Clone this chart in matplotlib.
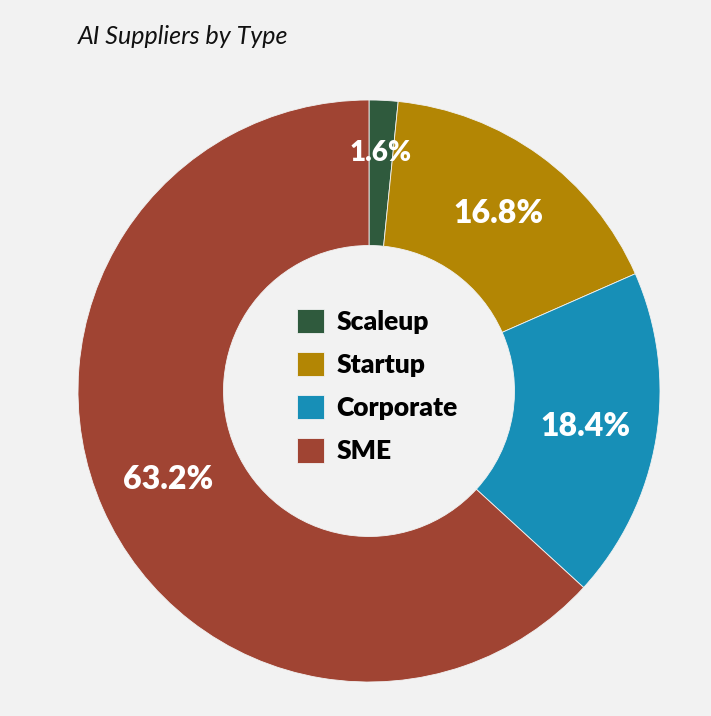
import numpy as np
import matplotlib.pyplot as plt

categories = ["Scaleup", "Startup", "Corporate", "SME"]
shares = [1.6, 16.8, 18.4, 63.2]
colors = ["#2f5a3d", "#b38604", "#178fb7", "#a04433"]

BG = "#f2f2f2"
plt.rcParams["font.family"] = ["Lato", "DejaVu Sans"]

fig = plt.figure(figsize=(7.11, 7.16), dpi=100, facecolor=BG)
ax = fig.add_axes([78 / 711, 34 / 716, 582 / 711, 582 / 716])
ax.set_facecolor(BG)

wedges, _ = ax.pie(
    shares,
    colors=colors,
    startangle=90,
    counterclock=False,
    radius=1.0,
    wedgeprops=dict(width=0.5, edgecolor=BG, linewidth=0.6),
)

# percentage labels
for w, val in zip(wedges, shares):
    mid = np.deg2rad((w.theta1 + w.theta2) / 2)
    r = 0.82 if val < 5 else 0.755
    ax.text(
        r * np.cos(mid), r * np.sin(mid), f"{val}%",
        ha="center", va="center", color="white", fontweight="heavy",
        fontsize=20 if val < 5 else 23,
    )

ax.legend(
    wedges, categories, loc="center", frameon=False,
    bbox_to_anchor=(0.5 + 8 / 582, 0.5 + 5 / 582),
    prop=dict(size=19, weight="heavy"),
    handlelength=1.05, handleheight=1.05, handletextpad=0.45, labelspacing=0.68,
)

ax.set_xlim(-1, 1)
ax.set_ylim(-1, 1)
ax.set_aspect("equal")
ax.axis("off")

fig.text(78 / 711, 1 - 37 / 716, "AI Suppliers by Type", fontsize=18,
         style="italic", ha="left", va="center", color="#111111")

fig.savefig("out.png", dpi=100, facecolor=BG)
